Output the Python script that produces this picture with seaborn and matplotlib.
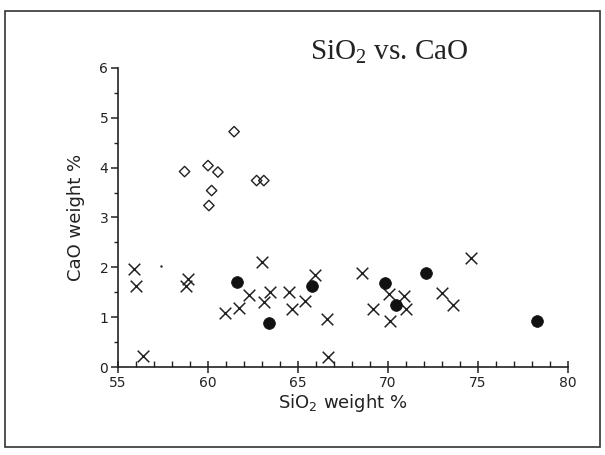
import matplotlib
matplotlib.use("Agg")
import matplotlib.pyplot as plt
import seaborn as sns
import pandas as pd
from matplotlib.patches import Rectangle
from matplotlib.ticker import MultipleLocator

sns.set_theme(style="white")
plt.rcParams['font.family'] = ['DejaVu Sans']

# Diamonds (open)
dia_sio2 = [58.7, 60.0, 60.55, 60.2, 60.05, 61.45, 62.7, 63.1]
dia_cao = [3.92, 4.04, 3.91, 3.54, 3.24, 4.72, 3.74, 3.74]

# Crosses
x_sio2 = [55.9, 56.0, 56.4, 58.8, 58.9, 63.0, 60.95, 61.7, 62.3, 63.1, 63.45,
          64.5, 64.65, 65.4, 65.95, 66.6, 66.65, 68.55, 69.15, 70.05, 70.1,
          70.9, 71.0, 73.0, 73.6, 74.6]
x_cao = [1.96, 1.63, 0.22, 1.63, 1.77, 2.10, 1.08, 1.19, 1.45, 1.31, 1.51,
         1.50, 1.16, 1.33, 1.85, 0.96, 0.20, 1.88, 1.16, 1.47, 0.93,
         1.43, 1.16, 1.48, 1.24, 2.19]

# Filled circles
dot_sio2 = [61.6, 63.4, 65.75, 69.85, 70.45, 72.1, 78.3]
dot_cao = [1.70, 0.88, 1.63, 1.69, 1.24, 1.89, 0.93]

# Tiny dot
tiny_sio2 = [57.4]
tiny_cao = [2.03]

fig = plt.figure(figsize=(6.05, 4.55), dpi=100)
ax = fig.add_axes([0.195, 0.193, 0.744, 0.658])

df_d = pd.DataFrame({"SiO2": dia_sio2, "CaO": dia_cao})
df_x = pd.DataFrame({"SiO2": x_sio2, "CaO": x_cao})
df_o = pd.DataFrame({"SiO2": dot_sio2, "CaO": dot_cao})
df_t = pd.DataFrame({"SiO2": tiny_sio2, "CaO": tiny_cao})

sns.scatterplot(data=df_d, x="SiO2", y="CaO", ax=ax, marker="D", s=28,
                facecolor="none", edgecolor="#222222", linewidth=1.0, clip_on=False)
sns.scatterplot(data=df_x, x="SiO2", y="CaO", ax=ax, marker="x", s=70,
                color="#222222", linewidth=1.1, clip_on=False)
sns.scatterplot(data=df_o, x="SiO2", y="CaO", ax=ax, marker="o", s=72,
                color="#111111", edgecolor="#111111", linewidth=0.5, clip_on=False)
sns.scatterplot(data=df_t, x="SiO2", y="CaO", ax=ax, marker="o", s=3,
                color="#222222", linewidth=0, clip_on=False)

ax.set_xlim(55, 80)
ax.set_ylim(0, 6)
ax.xaxis.set_major_locator(MultipleLocator(5))
ax.xaxis.set_minor_locator(MultipleLocator(1))
ax.yaxis.set_major_locator(MultipleLocator(1))
ax.yaxis.set_minor_locator(MultipleLocator(0.5))
for s in ["top", "right"]:
    ax.spines[s].set_visible(False)
for s in ["left", "bottom"]:
    ax.spines[s].set_color("#222222")
    ax.spines[s].set_linewidth(1.2)
ax.tick_params(axis="x", which="major", direction="inout", length=8, width=1.1,
               colors="#222222", labelsize=10, pad=2, bottom=True)
ax.tick_params(axis="x", which="minor", direction="in", length=4, width=1.0,
               colors="#222222", bottom=True)
ax.tick_params(axis="y", which="major", direction="out", length=5, width=1.1,
               colors="#222222", labelsize=10, pad=2, left=True)
ax.tick_params(axis="y", which="minor", direction="out", length=3, width=1.0,
               colors="#222222", left=True)

ax.set_xlabel("SiO$_\\mathregular{2}$ weight %", fontsize=13, color="#222222", labelpad=2)
ax.set_ylabel("CaO weight %", fontsize=13, color="#222222", labelpad=10)

fig.text(0.643, 0.855, "SiO$_\\mathregular{2}$ vs. CaO", family="Liberation Serif",
         fontsize=21, color="#222222", ha="center", va="bottom")

fig.patches.append(Rectangle((0.009, 0.018), 0.983, 0.957, transform=fig.transFigure,
                             fill=False, edgecolor="#333333", linewidth=1.2))

fig.savefig("out.png", dpi=100)
